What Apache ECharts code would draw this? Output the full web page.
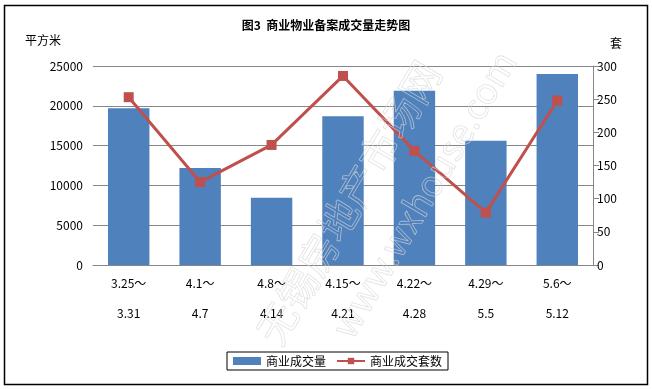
<!DOCTYPE html>
<html><head><meta charset="utf-8">
<script src="https://cdn.jsdelivr.net/npm/echarts@6/dist/echarts.min.js"></script>
<style>html,body{margin:0;padding:0;background:#fff}#c{width:652px;height:389px}</style>
</head><body><div id="c"></div>
<script>
const categories = ['3.25～\n3.31','4.1～\n4.7','4.8～\n4.14','4.15～\n4.21','4.22～\n4.28','4.29～\n5.5','5.6～\n5.12'];
const areaValues = [19700, 12200, 8450, 18700, 21900, 15600, 24000];
const setValues = [253, 125, 181, 285, 172, 79, 248];
const leftTicks = [0, 5000, 10000, 15000, 20000, 25000];
const rightTicks = [0, 50, 100, 150, 200, 250, 300];
const FONT = '"Noto Sans CJK SC", sans-serif';
const chart = echarts.init(document.getElementById('c'));
chart.setOption({
  animation: false,
  backgroundColor: '#fff',
  textStyle: { fontFamily: FONT },
  title: {
    text: '图3  商业物业备案成交量走势图', left: 'center', top: 14,
    textStyle: { fontSize: 12, fontWeight: 'bold', color: '#000', fontFamily: FONT }
  },
  graphic: [
    { type: 'rect', shape: { x: 4.5, y: 5.5, width: 643, height: 379 }, style: { fill: 'none', stroke: '#000', lineWidth: 1.5 }, z: 0 },
    { type: 'text', left: 25, top: 34, style: { text: '平方米', font: '12px ' + FONT, fill: '#000' } },
    { type: 'text', left: 610, top: 37, style: { text: '套', font: '12px ' + FONT, fill: '#000' } },
    { type: 'text', x: 250, y: 330, rotation: Math.PI * 0.33, style: { text: '无锡房地产市场网', font: '40px ' + FONT, fill: 'rgba(255,255,255,0)', stroke: 'rgba(215,215,215,0.7)', lineWidth: 0.8 }, z: 100 },
    { type: 'text', x: 325, y: 325, rotation: Math.PI * 0.33, style: { text: 'www.wxhouse.com', font: '36px ' + FONT, fill: 'rgba(255,255,255,0)', stroke: 'rgba(215,215,215,0.7)', lineWidth: 0.8 }, z: 100 }
  ],
  legend: {
    left: 227, top: 352, itemGap: 10, padding: [3, 6, 3, 6],
    borderColor: '#000', borderWidth: 1,
    itemWidth: 28, itemHeight: 8,
    textStyle: { fontSize: 12, color: '#000', fontFamily: FONT },
    data: [{ name: '商业成交量', icon: 'rect' }, { name: '商业成交套数' }]
  },
  grid: { left: 93, right: 59, top: 66, bottom: 124, containLabel: false },
  xAxis: {
    type: 'category', data: categories,
    axisLine: { lineStyle: { color: '#868686', width: 1 } },
    axisTick: { show: false },
    axisLabel: { color: '#000', fontSize: 12, lineHeight: 30, margin: 3, fontFamily: FONT, interval: 0 }
  },
  yAxis: [
    {
      type: 'value', min: 0, max: 25000, interval: 5000, position: 'left',
      axisLine: { show: false }, axisTick: { show: false },
      axisLabel: { color: '#000', fontSize: 12, margin: 10, fontFamily: FONT, formatter: v => String(v) },
      splitLine: { lineStyle: { color: '#868686', width: 1 } }
    },
    {
      type: 'value', min: 0, max: 300, interval: 50, position: 'right',
      axisLine: { show: true, lineStyle: { color: '#868686' } },
      axisTick: { show: true, length: 6, lineStyle: { color: '#868686' } },
      axisLabel: { color: '#000', fontSize: 12, margin: 4, fontFamily: FONT, formatter: v => String(v) },
      splitLine: { show: false }
    }
  ],
  series: [
    {
      name: '商业成交量', type: 'bar', data: areaValues, yAxisIndex: 0,
      barCategoryGap: '42%', itemStyle: { color: '#4F81BD' }
    },
    {
      name: '商业成交套数', type: 'line', data: setValues, yAxisIndex: 1,
      symbol: 'rect', symbolSize: 10,
      lineStyle: { color: '#C0504D', width: 3 },
      itemStyle: { color: '#C0504D' }
    }
  ]
});
</script></body></html>
